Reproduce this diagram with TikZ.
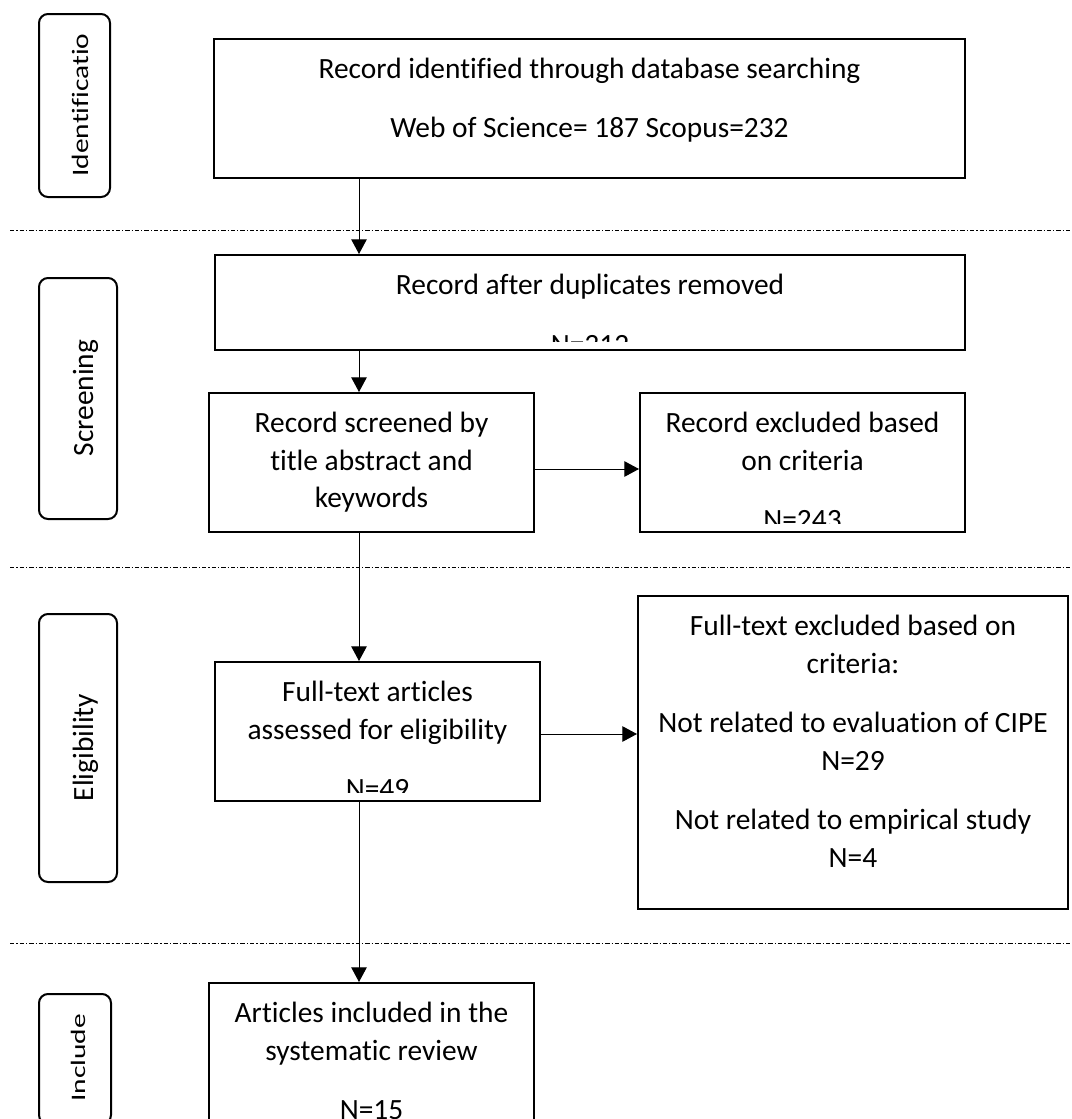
\documentclass[tikz,border=0pt]{standalone}
\usepackage{fontspec}
\usepackage{graphicx}
\setmainfont{Carlito}[Ligatures=NoCommon]
\usepackage{tikz}
\usetikzlibrary{arrows.meta, positioning}

\tikzset{
    box/.style={draw, line width=1pt, inner sep=0pt},
    phase/.style={draw, line width=1pt, rounded corners=4.5pt, inner sep=0pt},
    txt/.style={inner sep=0pt, align=center, execute at begin node=\strut},
    sidetxt/.style={rotate=90, inner sep=0pt},
    flow/.style={-{Triangle[length=7.3pt, width=7.7pt]}, line width=0.5pt},
    sep/.style={line width=0.5pt, dash pattern=on 2.2pt off 1pt on 0.6pt off 1pt},
}

\begin{document}
\begin{tikzpicture}[x=0.5pt, y=-0.5pt, font=\fontsize{14.7}{18.75}\selectfont]
    \clip (0,0) rectangle (1071,1119);

    % phase labels on the left
    \node[phase, minimum width=35.5pt, minimum height=91.5pt] (idphase) at (74.5,105.5) {};
    \node[phase, minimum width=39pt, minimum height=120.5pt] (scphase) at (78,398.5) {};
    \node[phase, minimum width=39pt, minimum height=134pt] (elphase) at (78,748) {};
    \node[phase, minimum width=36pt, minimum height=65pt] (inphase) at (75,1059) {};

    \begin{scope}
        \clip (38,33) rectangle (111,198);
        \node[sidetxt, anchor=base west] (idtext) at (88,177) {\scalebox{1}[0.8]{Identification}};
    \end{scope}
    \node[sidetxt, anchor=base] (sctext) at (93,398) {Screening};
    \node[sidetxt, anchor=base] (eltext) at (93,747.5) {Eligibility};
    \node[sidetxt, anchor=base west] (intext) at (85,1102) {\scalebox{1}[0.7]{Include}};

    % flow boxes
    \node[box, minimum width=375.5pt, minimum height=69.5pt] (search) at (589.5,108.5) {};
    \node[box, minimum width=375pt, minimum height=47.5pt] (dedup) at (590,302.5) {};
    \node[box, minimum width=162.5pt, minimum height=69.5pt] (screen) at (371.5,462.5) {};
    \node[box, minimum width=162.5pt, minimum height=69.5pt, right=52pt of screen] (excluded) {};
    \node[box, minimum width=162.5pt, minimum height=69.5pt] (fulltext) at (377.5,731.5) {};
    \node[box, minimum width=215pt, minimum height=156.5pt] (ftexcluded) at (853,752.5) {};
    \node[box, minimum width=162.5pt, minimum height=69.5pt] (included) at (371.5,1052.5) {};

    % box texts
    \node[txt, below=10pt of search.north] (searchtext) {Record identified through database searching\\[10.5pt]Web of Science= 187 Scopus=232};
    \begin{scope}
        \clip ([yshift=5pt]dedup.south west) rectangle (dedup.north east);
        \node[txt, below=10pt of dedup.north] (deduptext) {Record after duplicates removed\\[11pt]N=312};
    \end{scope}
    \node[txt, below=10pt of screen.north] (screentext) {Record screened by\\title abstract and\\keywords};
    \begin{scope}
        \clip ([yshift=5pt]excluded.south west) rectangle (excluded.north east);
        \node[txt, below=10pt of excluded.north] (excludedtext) {Record excluded based\\on criteria\\[11pt]N=243};
    \end{scope}
    \begin{scope}
        \clip ([yshift=5pt]fulltext.south west) rectangle (fulltext.north east);
        \node[txt, below=10pt of fulltext.north] (fulltexttext) {Full-text articles\\assessed for eligibility\\[11pt]N=49};
    \end{scope}
    \node[txt, below=10pt of ftexcluded.north] (ftexcludedtext) {Full-text excluded based on\\criteria:\\[11pt]Not related to evaluation of CIPE\\N=29\\[11pt]Not related to empirical study\\N=4};
    \node[txt, below=10pt of included.north] (includedtext) {Articles included in the\\systematic review\\[11pt]N=15};

    % phase separators
    \foreach \y in {230,567,943}
        \draw[sep] (10,\y) -- (1071,\y);

    % connectors
    \coordinate (spine) at (359,0);
    \draw[flow] (search.south -| spine) -- (dedup.north -| spine);
    \draw[flow] (dedup.south -| spine) -- (screen.north -| spine);
    \draw[flow] ([yshift=-3.25pt]screen.east) -- ([yshift=-3.25pt]excluded.west);
    \draw[flow] (screen.south -| spine) -- (fulltext.north -| spine);
    \draw[flow] ([yshift=-1.25pt]fulltext.east) -- ([yshift=-1.25pt]fulltext.east -| ftexcluded.west);
    \draw[flow] (fulltext.south -| spine) -- (included.north -| spine);
\end{tikzpicture}
\end{document}
